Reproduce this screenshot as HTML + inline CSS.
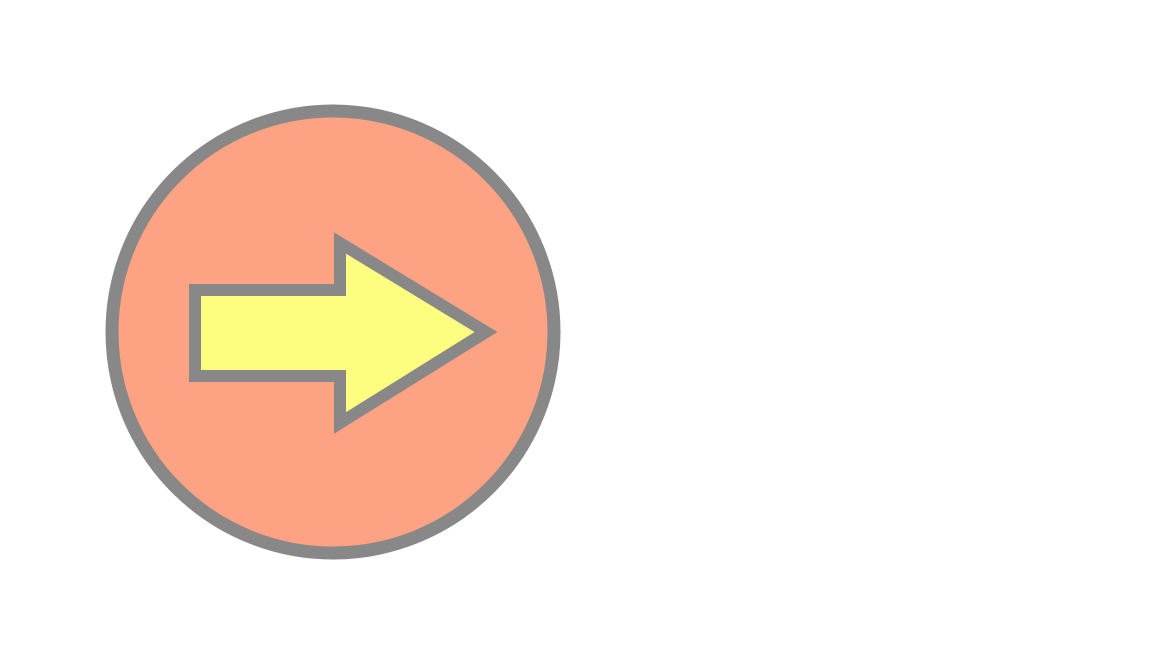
<!DOCTYPE html>
<html>
<head>
<meta charset="utf-8">
<style>
  html, body { margin: 0; padding: 0; background: #ffffff; }
  body { width: 1152px; height: 666px; overflow: hidden; }
  svg { display: block; }
</style>
</head>
<body>
<svg width="1152" height="666" viewBox="0 0 1152 666">
  <circle cx="333" cy="332" r="221" fill="#fda283" stroke="#888888" stroke-width="13"/>
  <polygon
    points="195,290 340,290 340,243 486,332 340,423 340,376 195,376"
    fill="#fdfd80" stroke="#888888" stroke-width="12" stroke-linejoin="miter"/>
</svg>
</body>
</html>
